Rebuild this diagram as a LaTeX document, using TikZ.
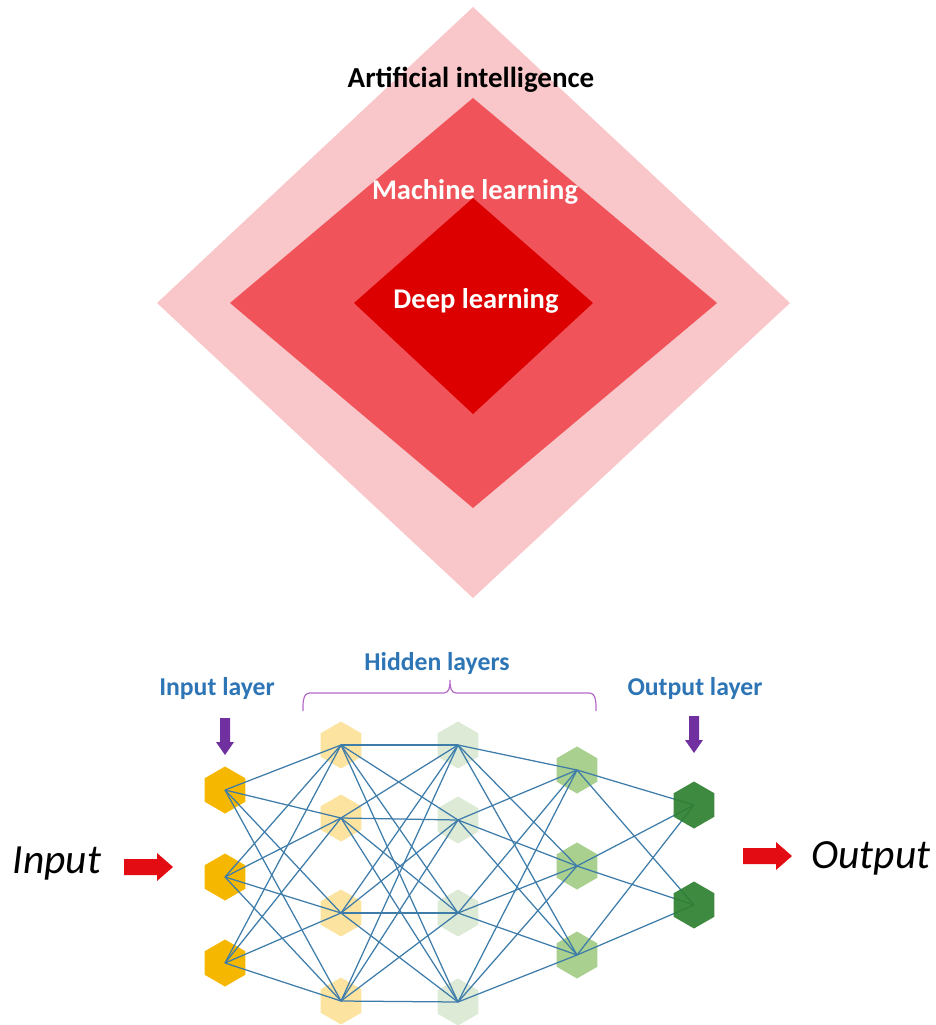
\documentclass[tikz,border=0pt]{standalone}
\usepackage{fontspec}
\setmainfont{Carlito}
\usetikzlibrary{shapes.geometric}

\definecolor{aiPink}{RGB}{249,199,201}
\definecolor{mlRed}{RGB}{240,84,90}
\definecolor{dlRed}{RGB}{220,0,0}
\definecolor{labelBlue}{RGB}{46,117,182}
\definecolor{linkBlue}{RGB}{62,124,170}
\definecolor{arrowPurple}{RGB}{112,48,160}
\definecolor{braceLilac}{RGB}{180,105,200}
\definecolor{arrowRed}{RGB}{226,12,18}
\definecolor{inGold}{RGB}{245,183,0}
\definecolor{hidYellow}{RGB}{252,228,160}
\definecolor{hidPale}{RGB}{220,234,214}
\definecolor{hidGreen}{RGB}{169,208,142}
\definecolor{outGreen}{RGB}{46,128,48}

\begin{document}
\begin{tikzpicture}[x=1pt,y=-1pt,
  hexcell/.style={regular polygon, regular polygon sides=6, shape border rotate=30,
    minimum size=47pt, inner sep=0pt, draw=none},
  link/.style={draw=linkBlue, line width=1.25pt},
  settext/.style={font=\fontsize{28.5}{34}\selectfont\bfseries, anchor=base, inner sep=0pt},
  layerlbl/.style={font=\fontsize{25.7}{31}\selectfont\bfseries, text=labelBlue, anchor=base, inner sep=0pt},
  iotext/.style={font=\fontsize{41.5}{50}\selectfont\itshape, anchor=base, inner sep=0pt},
  brace/.style={draw=braceLilac, line width=1.2pt}]

\useasboundingbox (0,0) rectangle (936,1025);

% nested diamonds: AI > ML > DL
\fill[aiPink] (473,7) -- (790,303) -- (473,598) -- (157,303) -- cycle;
\fill[mlRed]  (473,98) -- (717,303) -- (473,508) -- (230,303) -- cycle;
\fill[dlRed]  (473,198) -- (593,303) -- (473,414) -- (354,303) -- cycle;

\node[settext, text=black, font=\fontsize{29}{34}\selectfont\bfseries] (ai) at (471,87) {Artificial intelligence};
\node[settext, text=white] (ml) at (475,199) {Machine learning};
\node[settext, text=white] (dl) at (476,308) {Deep learning};

% layer labels
\node[layerlbl] (hidlbl) at (437,670) {Hidden layers};
\node[layerlbl] (inlbl)  at (217,695) {Input layer};
\node[layerlbl] (outlbl) at (695,695) {Output layer};

% brace over the hidden layers
\draw[brace] (303,711) to[out=90,in=180] (310,693) -- (444,693)
  to[out=0,in=-90] (450,680) to[out=-90,in=180] (456,693) -- (589,693)
  to[out=0,in=90] (596,711);

% purple pointer arrows
\coordinate (inTip) at (225,755);
\coordinate (outTip) at (694,753);
\foreach \t in {inTip,outTip}
  \fill[arrowPurple] (\t) ++(-5,-37) -- ++(10,0) -- ++(0,24) -- ++(4,0)
    -- (\t) -- ++(-9,-13) -- ++(4,0) -- cycle;

% neurons
\foreach \y [count=\i] in {790,877,963}
  \node[hexcell, fill=inGold] (in\i) at (225,\y) {};
\foreach \y [count=\i] in {745,818,913,1001}
  \node[hexcell, fill=hidYellow] (ha\i) at (341,\y) {};
\foreach \y [count=\i] in {745,820,913,1002}
  \node[hexcell, fill=hidPale] (hb\i) at (458,\y) {};
\foreach \y [count=\i] in {770,866,955}
  \node[hexcell, fill=hidGreen] (hc\i) at (577,\y) {};

% connections
\foreach \a in {1,2,3}
  \foreach \b in {1,...,4}
    \draw[link] (in\a.center) -- (ha\b.center);
\foreach \a in {1,...,4}
  \foreach \b in {1,...,4}
    \draw[link] (ha\a.center) -- (hb\b.center);
\foreach \a in {1,...,4}
  \foreach \b in {1,2,3}
    \draw[link] (hb\a.center) -- (hc\b.center);

\foreach \y [count=\i] in {805,905}
  \coordinate (oc\i) at (694,\y);
\foreach \a in {1,2,3}
  \foreach \b in {1,2}
    \draw[link] (hc\a.center) -- (oc\b);
\foreach \i in {1,2}
  \node[hexcell, fill=outGreen, fill opacity=0.92] (out\i) at (oc\i) {};

% input / output
\node[iotext] (inputtxt) at (57,873) {Input};
\node[iotext] (outputtxt) at (871,868) {Output};

\coordinate (inArrowTip) at (173,867);
\coordinate (outArrowTip) at (792,856);
\foreach \t in {inArrowTip,outArrowTip}
  \fill[arrowRed] (\t) ++(-49,-8) -- ++(33,0) -- ++(0,-6) -- (\t)
    -- ++(-16,14) -- ++(0,-6) -- ++(-33,0) -- cycle;

\end{tikzpicture}
\end{document}
